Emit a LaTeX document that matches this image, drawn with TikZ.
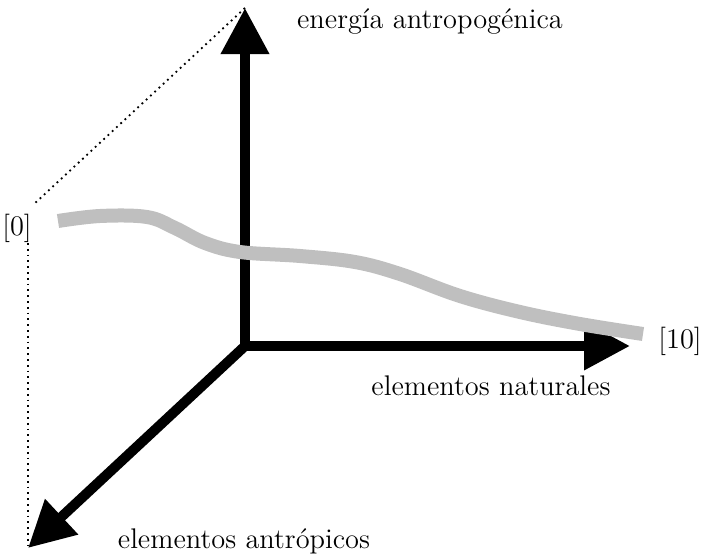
\documentclass[tikz,border=0pt]{standalone}
\usepackage{tikz}
\usetikzlibrary{arrows.meta}
\tikzset{
  axis/.style={line width=5pt, -{Triangle[length=23pt, width=23pt]}},
  guide/.style={dotted, line width=0.9pt},
  trend/.style={line width=7pt, gray!50},
  lbl/.style={font=\fontsize{14.2}{17}\selectfont, inner sep=0pt}
}
\begin{document}
\begin{tikzpicture}[x=0.5pt, y=-0.5pt]
  \useasboundingbox (0,0) rectangle (702,557);
  \coordinate (origin) at (245,346);
  \coordinate (ytip) at (245,8);
  \coordinate (xtip) at (630,346);
  \coordinate (ztip) at (28,548);
  \coordinate (guideA) at (33,205);
  \coordinate (guideB) at (28,243);
  \node[lbl] (zero) at (17,228) {[0]};
  \node[lbl] (ten) at (680,341) {[10]};
  \node[lbl] (energia) at (430,22) {energía antropogénica};
  \node[lbl] (naturales) at (491,386) {elementos naturales};
  \node[lbl] (antropicos) at (244,541) {elementos antrópicos};
  % dotted guides
  \draw[guide] (ytip) -- (guideA);
  \draw[guide] (guideB) -- (ztip);
  % axes
  \draw[axis] (origin) -- (ytip);
  \draw[axis] (origin) -- (xtip);
  \draw[axis] (origin) -- (ztip);
  % grey curve
  \draw[trend] plot[smooth, tension=0.6] coordinates {(58,221) (100,216) (147,217) (175,228) (205,243) (240,252) (300,256) (355,262) (400,274) (460,296) (520,312) (580,324) (643,334)};
\end{tikzpicture}
\end{document}
